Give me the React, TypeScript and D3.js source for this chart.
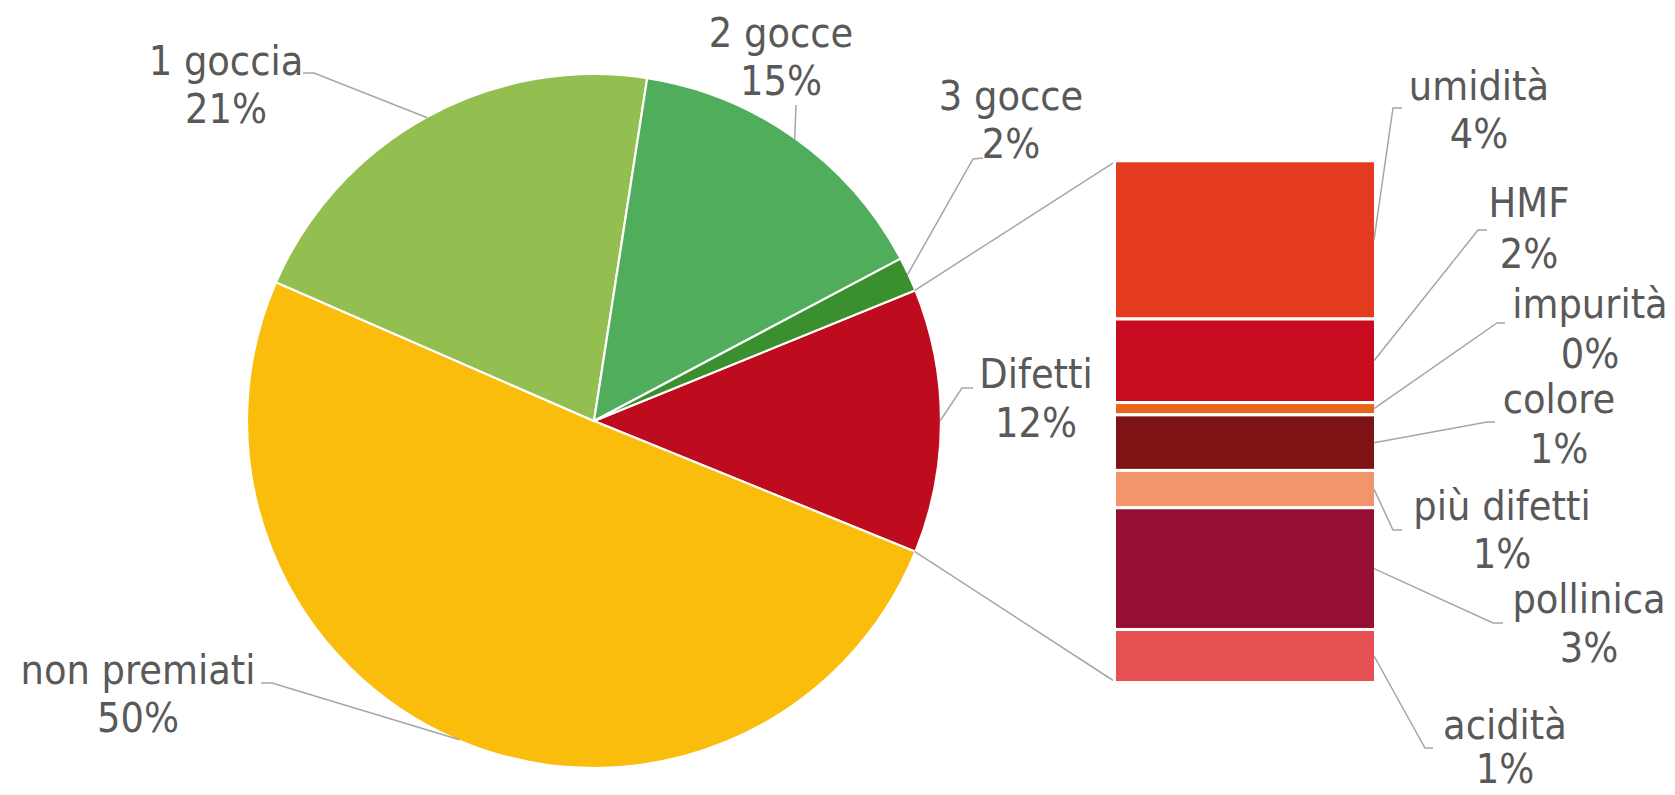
import React from "react";
import * as d3 from "d3";

// ---- data ----
const mainCategories = ["Difetti", "non premiati", "1 goccia", "2 gocce", "3 gocce"];
const mainValues = [12.3, 50.4, 20.9, 14.8, 1.6];
const subCategories = ["umidità", "HMF", "impurità", "colore", "più difetti", "pollinica", "acidità"];
const subValues = [3.73, 1.97, 0.29, 1.31, 0.88, 2.87, 1.25];

// ---- styles / layout ----
const mainColors = ["#BE0B1D", "#FABD0B", "#93BF51", "#4FAD5B", "#3A902F"];
const subColors = ["#E43B20", "#C80B1E", "#E8661C", "#7E1316", "#F2956B", "#960F33", "#E65153"];
const W = 1675, H = 795;
const CX = 594, CY = 421, R = 346;
const BAR_X0 = 1116, BAR_X1 = 1374, BAR_Y0 = 162.3, BAR_Y1 = 681;
const TEXT = "#595959";
const LINE = "#A6A6A6";
const FONT = "'DejaVu Sans Condensed', 'DejaVu Sans', sans-serif";
const FS = 41;

// label layout: centre x, baselines, label-side leader start and knee
const mainLabelPos = [
  { cx: 1036, b1: 388, b2: 437, s: [973, 388], k: [962, 388] },
  { cx: 138, b1: 684, b2: 732, s: [261, 683], k: [272, 683] },
  { cx: 226, b1: 75, b2: 123, s: [303, 73], k: [314, 73] },
  { cx: 781, b1: 47, b2: 95, s: [796, 105], k: [796, 105] },
  { cx: 1011, b1: 110, b2: 158, s: [983, 158], k: [973, 159] },
];
const subLabelPos = [
  { cx: 1479, b1: 100, b2: 148, s: [1402, 108], k: [1393, 108] },
  { cx: 1529, b1: 217, b2: 268, s: [1487, 230], k: [1478, 230] },
  { cx: 1590, b1: 318, b2: 368, s: [1505, 323], k: [1497, 323] },
  { cx: 1559, b1: 413, b2: 463, s: [1495, 422], k: [1487, 422] },
  { cx: 1502, b1: 520, b2: 568, s: [1402, 530], k: [1393, 530] },
  { cx: 1589, b1: 613, b2: 662, s: [1503, 623], k: [1493, 623] },
  { cx: 1505, b1: 739, b2: 783, s: [1433, 748], k: [1425, 748] },
];

export default function App() {
  const total = d3.sum(mainValues);
  const start = Math.PI / 2 - (mainValues[0] / total) * Math.PI;
  const pie = d3
    .pie<number>()
    .sort(null)
    .value((d) => d)
    .startAngle(start)
    .endAngle(start + 2 * Math.PI);
  const arcs = pie(mainValues);
  const arcGen = d3.arc<d3.PieArcDatum<number>>().innerRadius(0).outerRadius(R + 1);

  const pt = (a: number) => [CX + R * Math.sin(a), CY - R * Math.cos(a)];

  const subTotal = d3.sum(subValues);
  const y = d3.scaleLinear().domain([0, subTotal]).range([BAR_Y0 - 1.5, BAR_Y1 + 1.5]);
  const cum = d3.cumsum(subValues);
  const segs = subValues.map((v, i) => ({ y0: y(cum[i] - v), y1: y(cum[i]) }));

  const d0 = arcs[0];
  const pTop = pt(d0.startAngle);
  const pBot = pt(d0.endAngle);

  const pct = (v: number) => `${Math.round(v)}%`;

  return (
    <svg width={W} height={H} style={{ position: "absolute", left: 0, top: 0, background: "#fff" }}>
      <g transform={`translate(${CX},${CY})`}>
        {arcs.map((a, i) => (
          <path key={i} d={arcGen(a) || ""} fill={mainColors[i]} stroke="#fff" strokeWidth={2.2} strokeLinejoin="round" />
        ))}
      </g>
      {/* connector lines */}
      <line x1={pTop[0]} y1={pTop[1]} x2={BAR_X0 - 2} y2={BAR_Y0} stroke={LINE} strokeWidth={1.5} />
      <line x1={pBot[0]} y1={pBot[1]} x2={BAR_X0 - 2} y2={BAR_Y1} stroke={LINE} strokeWidth={1.5} />
      {/* bar of pie */}
      {segs.map((s, i) => (
        <rect
          key={i}
          x={BAR_X0 - 1.5}
          y={s.y0}
          width={BAR_X1 - BAR_X0 + 3}
          height={s.y1 - s.y0}
          fill={subColors[i]}
          stroke="#fff"
          strokeWidth={3}
        />
      ))}
      {/* main leaders + labels */}
      {arcs.map((a, i) => {
        const L = mainLabelPos[i];
        const p = pt((a.startAngle + a.endAngle) / 2);
        return (
          <g key={"m" + i}>
            <polyline
              points={`${L.s[0]},${L.s[1]} ${L.k[0]},${L.k[1]} ${p[0]},${p[1]}`}
              fill="none"
              stroke={LINE}
              strokeWidth={1.5}
            />
            <text x={L.cx} y={L.b1} textAnchor="middle" fill={TEXT} fontFamily={FONT} fontSize={FS}>
              {mainCategories[i]}
            </text>
            <text x={L.cx} y={L.b2} textAnchor="middle" fill={TEXT} fontFamily={FONT} fontSize={FS}>
              {pct(mainValues[i])}
            </text>
          </g>
        );
      })}
      {segs.map((s, i) => {
        const L = subLabelPos[i];
        const p = [BAR_X1, (s.y0 + s.y1) / 2];
        return (
          <g key={"s" + i}>
            <polyline
              points={`${L.s[0]},${L.s[1]} ${L.k[0]},${L.k[1]} ${p[0]},${p[1]}`}
              fill="none"
              stroke={LINE}
              strokeWidth={1.5}
            />
            <text x={L.cx} y={L.b1} textAnchor="middle" fill={TEXT} fontFamily={FONT} fontSize={FS}>
              {subCategories[i]}
            </text>
            <text x={L.cx} y={L.b2} textAnchor="middle" fill={TEXT} fontFamily={FONT} fontSize={FS}>
              {pct(subValues[i])}
            </text>
          </g>
        );
      })}
    </svg>
  );
}
